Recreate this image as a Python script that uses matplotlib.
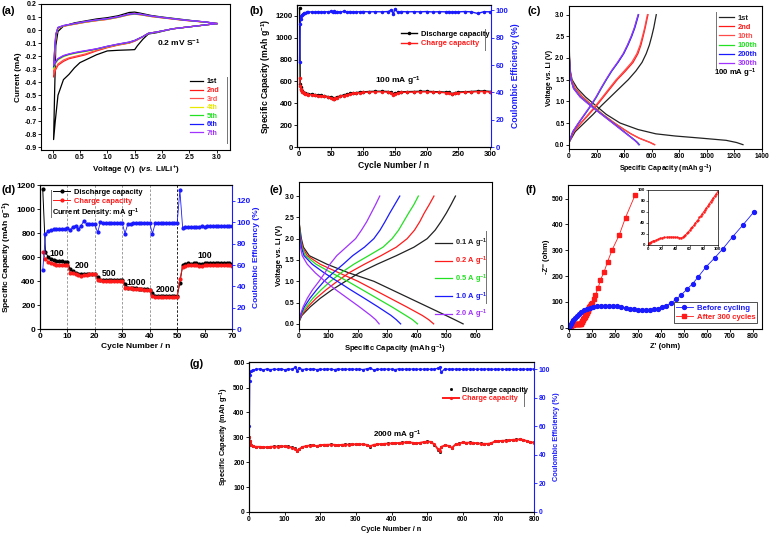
import matplotlib.pyplot as plt

plt.rcParams['font.family'] = ['Liberation Sans', 'DejaVu Sans']
plt.rcParams['font.weight'] = 'bold'
plt.rcParams['axes.labelweight'] = 'bold'
plt.rcParams['axes.unicode_minus'] = False
plt.rcParams['mathtext.fontset'] = 'custom'
plt.rcParams['mathtext.rm'] = 'Liberation Sans:bold'
plt.rcParams['mathtext.bf'] = 'Liberation Sans:bold'
plt.rcParams['mathtext.it'] = 'Liberation Sans:bold:italic'
plt.rcParams['mathtext.default'] = 'rm'

BLUE = '#1a1aff'
RED = '#ff1a1a'

# ================================
# Data
# ================================

# (a) cyclic voltammetry, 7 cycles (cathodic then anodic sweep)
a_labels = ['1st', '2nd', '3rd', '4th', '5th', '6th', '7th']
a_cat_v = [3.0, 2.6, 2.2, 1.9, 1.75, 1.65, 1.55, 1.5, 1.4, 1.2, 1.0, 0.8, 0.6, 0.5, 0.4, 0.3, 0.2, 0.1, 0.05, 0.02]
a_ano_v = [0.02, 0.04, 0.06, 0.1, 0.2, 0.4, 0.6, 0.8, 1.0, 1.2, 1.4, 1.5, 1.6, 1.8, 2.0, 2.4, 2.8, 3.0]
a_cat_i = [
    [0.05, 0.03, 0.01, -0.02, -0.03, -0.07, -0.12, -0.15, -0.152, -0.155, -0.16, -0.19, -0.23, -0.25, -0.29, -0.34, -0.38, -0.5, -0.7, -0.84],
    [0.05, 0.03, 0.01, -0.015, -0.025, -0.05, -0.075, -0.085, -0.1, -0.115, -0.135, -0.16, -0.19, -0.2, -0.21, -0.22, -0.24, -0.27, -0.31, -0.36],
    [0.05, 0.03, 0.01, -0.015, -0.025, -0.05, -0.073, -0.083, -0.098, -0.113, -0.132, -0.156, -0.183, -0.193, -0.203, -0.213, -0.23, -0.26, -0.3, -0.34],
    [0.05, 0.03, 0.01, -0.015, -0.025, -0.05, -0.07, -0.08, -0.095, -0.11, -0.128, -0.148, -0.165, -0.172, -0.18, -0.19, -0.205, -0.23, -0.26, -0.3],
    [0.05, 0.03, 0.01, -0.015, -0.025, -0.05, -0.07, -0.08, -0.094, -0.109, -0.126, -0.146, -0.162, -0.169, -0.177, -0.187, -0.2, -0.225, -0.255, -0.29],
    [0.05, 0.03, 0.01, -0.015, -0.025, -0.05, -0.07, -0.08, -0.093, -0.108, -0.125, -0.145, -0.16, -0.167, -0.175, -0.185, -0.198, -0.222, -0.25, -0.28],
    [0.05, 0.03, 0.01, -0.015, -0.025, -0.05, -0.07, -0.08, -0.092, -0.107, -0.124, -0.144, -0.158, -0.165, -0.173, -0.183, -0.195, -0.218, -0.245, -0.27],
]
a_ano_i = [
    [-0.84, -0.45, -0.12, -0.01, 0.03, 0.055, 0.07, 0.085, 0.095, 0.11, 0.135, 0.138, 0.13, 0.112, 0.1, 0.08, 0.06, 0.05],
    [-0.36, -0.2, -0.05, 0.015, 0.03, 0.045, 0.06, 0.072, 0.082, 0.098, 0.118, 0.122, 0.118, 0.104, 0.094, 0.075, 0.06, 0.05],
    [-0.34, -0.19, -0.05, 0.015, 0.03, 0.046, 0.061, 0.073, 0.083, 0.099, 0.119, 0.123, 0.119, 0.105, 0.095, 0.076, 0.061, 0.05],
    [-0.3, -0.17, -0.04, 0.018, 0.032, 0.048, 0.063, 0.075, 0.085, 0.1, 0.12, 0.124, 0.12, 0.106, 0.096, 0.076, 0.061, 0.05],
    [-0.29, -0.16, -0.04, 0.018, 0.033, 0.049, 0.064, 0.076, 0.086, 0.101, 0.121, 0.125, 0.121, 0.107, 0.097, 0.077, 0.061, 0.05],
    [-0.28, -0.15, -0.035, 0.02, 0.034, 0.05, 0.065, 0.077, 0.087, 0.102, 0.122, 0.126, 0.122, 0.108, 0.097, 0.077, 0.062, 0.05],
    [-0.27, -0.14, -0.03, 0.02, 0.035, 0.051, 0.066, 0.078, 0.088, 0.103, 0.123, 0.127, 0.123, 0.108, 0.097, 0.077, 0.062, 0.05],
]
a_colors = ['black', '#ff1a1a', '#ff5050', '#e8e800', '#22e022', '#1a1aff', '#a033ff']

# (b) cycling at 100 mA/g
b_cycle = [1, 2, 3, 4, 5, 6, 8, 10, 12, 15,
           20, 25, 30, 35, 40, 45, 50, 53, 55, 57,
           60, 65, 70, 75, 80, 85, 90, 95, 100, 110,
           120, 130, 140, 145, 148, 150, 155, 160, 170, 180,
           190, 200, 210, 220, 230, 235, 240, 245, 250, 260,
           270, 280, 290, 300]
b_discharge = [1270, 575, 545, 530, 515, 505, 495, 490, 487, 485,
               483, 480, 476, 472, 468, 462, 455, 448, 440, 450,
               458, 468, 476, 484, 490, 495, 498, 502, 505, 508,
               510, 510, 508, 500, 482, 490, 500, 505, 507, 508,
               510, 510, 507, 505, 502, 500, 488, 498, 503, 506,
               508, 512, 513, 508]
b_charge = [630, 560, 535, 520, 508, 500, 490, 485, 482, 480,
            478, 475, 471, 467, 463, 457, 450, 443, 435, 445,
            453, 463, 471, 479, 485, 490, 493, 497, 500, 503,
            505, 505, 503, 495, 476, 485, 495, 500, 502, 503,
            505, 505, 502, 500, 497, 495, 483, 493, 498, 501,
            503, 507, 508, 503]
b_ce = [62, 90, 94, 96, 97, 97.5, 98, 98.3, 98.6, 98.8,
        99.0, 98.7, 99.2, 98.9, 99.1, 99.0, 99.3, 98.8, 99.4, 99.0,
        99.2, 98.9, 99.3, 99.0, 99.2, 98.9, 99.1, 99.0, 99.2, 99.0,
        99.1, 99.0, 99.2, 100.5, 97.2, 100.8, 98.8, 99.2, 99.0, 99.1,
        99.0, 99.2, 98.9, 99.1, 99.0, 99.2, 98.8, 99.1, 99.0, 99.2,
        99.0, 97.8, 99.1, 99.0]

# (c) charge/discharge profiles at 100 mA/g
c_labels = ['1st', '2nd', '10th', '100th', '200th', '300th']
c_colors = ['#222222', '#ff1a1a', '#ff4a4a', '#22e022', '#1a1aff', '#a033ff']
c_dis_v = [2.5, 2.0, 1.7, 1.5, 1.3, 1.1, 0.9, 0.7, 0.5, 0.35, 0.25, 0.2, 0.15, 0.1, 0.05, 0.0]
c_dis_cap = [
    [0, 4, 10, 22, 60, 120, 195, 270, 370, 500, 630, 770, 960, 1140, 1215, 1262],
    [0, 3, 8, 18, 45, 100, 170, 245, 330, 400, 450, 480, 510, 550, 590, 622],
    [0, 3, 8, 17, 42, 96, 166, 242, 328, 398, 448, 478, 508, 547, 587, 618],
    [0, 3, 7, 15, 35, 85, 160, 240, 320, 380, 420, 440, 460, 480, 498, 512],
    [0, 3, 7, 14, 33, 82, 157, 237, 318, 378, 418, 438, 458, 478, 495, 508],
    [0, 3, 7, 14, 32, 80, 155, 235, 316, 376, 416, 436, 456, 476, 493, 505],
]
c_chg_v = [0.05, 0.3, 0.5, 0.7, 0.9, 1.1, 1.3, 1.5, 1.7, 1.9, 2.1, 2.3, 2.5, 2.7, 2.9, 3.0]
c_chg_cap = [
    [0, 45, 110, 175, 235, 300, 365, 430, 485, 530, 560, 583, 600, 615, 627, 633],
    [0, 35, 88, 145, 200, 250, 300, 350, 410, 465, 500, 522, 538, 553, 566, 573],
    [0, 33, 85, 140, 193, 243, 292, 342, 400, 455, 492, 516, 533, 549, 562, 569],
    [0, 28, 70, 115, 160, 200, 235, 272, 310, 355, 395, 425, 452, 475, 493, 502],
    [0, 28, 70, 114, 158, 198, 233, 270, 310, 356, 397, 428, 455, 478, 496, 505],
    [0, 27, 68, 112, 156, 196, 231, 268, 307, 352, 393, 424, 451, 474, 492, 502],
]

# (d) rate capability
d_cycle = list(range(1, 71))
d_discharge = [1165, 640, 600, 585, 575, 568, 565, 563, 562, 560,
               500, 480, 470, 462, 455, 455, 458, 460, 462, 462,
               430, 408, 408, 407, 406, 406, 405, 405, 405, 405,
               378, 345, 342, 340, 338, 336, 334, 332, 330, 328,
               300, 275, 273, 272, 272, 272, 272, 272, 272, 272,
               385, 530, 545, 546, 545, 547, 546, 545, 544, 546,
               547, 548, 547, 546, 548, 549, 548, 547, 546, 545]
d_charge = [645, 580, 560, 550, 540, 535, 532, 530, 530, 530,
            470, 465, 460, 450, 440, 448, 452, 455, 455, 458,
            405, 405, 404, 404, 404, 403, 403, 403, 403, 403,
            342, 340, 338, 336, 334, 332, 330, 328, 326, 324,
            272, 270, 270, 270, 270, 270, 270, 270, 270, 270,
            420, 515, 528, 530, 530, 531, 530, 529, 528, 530,
            531, 532, 531, 530, 532, 533, 532, 531, 530, 528]
d_ce = [55, 89, 92, 93, 93.5, 93.5, 94, 93.5, 94, 94.5,
        93, 96, 97, 93.5, 97, 101.5, 98.5, 98.5, 98, 98,
        90.5, 100, 99, 99, 99, 99, 99, 99, 99, 99,
        89.5, 98.5, 98.5, 99, 99, 99, 99, 99, 99, 99,
        89.5, 99, 99, 99, 99, 99, 99, 99, 99, 99,
        130, 95, 95.5, 96, 95.5, 96, 96, 96, 96.5, 96,
        96.5, 97, 96.5, 96.5, 97, 97, 96.5, 96.5, 97, 97]
d_steps = [10, 20, 30, 40, 50]
d_rates = ['100', '200', '500', '1000', '2000', '100']
d_rate_x = [3.6, 12.8, 22.5, 31.6, 42.2, 57.5]
d_rate_y = [625, 530, 465, 390, 330, 615]

# (e) profiles at different rates
e_labels = ['0.1 A g$^{-1}$', '0.2 A g$^{-1}$', '0.5 A g$^{-1}$', '1.0 A g$^{-1}$', '2.0 A g$^{-1}$']
e_colors = ['#222222', '#ff1a1a', '#22e022', '#1a1aff', '#a033ff']
e_dis_v = [2.4, 2.0, 1.8, 1.6, 1.4, 1.2, 1.0, 0.8, 0.6, 0.4, 0.2, 0.1, 0.0]
e_dis_cap = [
    [0, 8, 15, 35, 95, 168, 254, 315, 376, 437, 498, 528, 557],
    [0, 6, 12, 28, 72, 135, 200, 255, 310, 365, 418, 440, 457],
    [0, 5, 10, 22, 58, 110, 165, 215, 265, 315, 362, 385, 402],
    [0, 4, 8, 17, 45, 85, 130, 175, 222, 268, 312, 330, 345],
    [0, 2, 5, 11, 28, 55, 88, 125, 165, 205, 243, 260, 272],
]
e_chg_v = [0.05, 0.2, 0.4, 0.6, 0.8, 1.0, 1.2, 1.4, 1.6, 1.8, 2.0, 2.2, 2.4, 2.6, 2.8, 3.0]
e_chg_cap = [
    [0, 10, 38, 72, 112, 158, 205, 265, 330, 390, 435, 462, 482, 500, 516, 531],
    [0, 8, 30, 58, 92, 130, 170, 222, 278, 330, 367, 392, 410, 425, 442, 458],
    [0, 6, 24, 47, 75, 107, 143, 186, 236, 285, 316, 338, 355, 372, 390, 405],
    [0, 5, 18, 37, 60, 85, 116, 150, 182, 222, 254, 275, 292, 308, 325, 342],
    [0, 4, 14, 28, 46, 68, 88, 105, 128, 160, 192, 212, 230, 245, 260, 274],
]

# (f) impedance
f_before_zr = [2, 5, 9, 14, 20, 27, 35, 44, 54, 65,
               78, 92, 107, 123, 140, 157, 175, 193, 211, 229,
               247, 265, 283, 300, 318, 335, 352, 370, 388, 406,
               425, 445, 467, 490, 515, 538, 562, 597, 634, 670,
               712, 757, 806]
f_before_zi = [2, 7, 14, 21, 29, 37, 45, 53, 60, 67,
               73, 78, 82, 84, 85.5, 86, 86, 85, 83, 80,
               77, 74, 72, 70, 69, 68.5, 69, 71, 74, 79,
               86, 96, 110, 128, 150, 170, 196, 236, 270, 306,
               352, 398, 450]
f_after_zr = [0, 1, 2, 3, 5, 7, 9, 12, 15, 18,
              21, 24, 27, 30, 33, 36, 39, 42, 45, 48,
              50, 52, 54, 56, 58, 60, 62, 64, 66, 68,
              70, 72, 74, 76, 78, 80, 82, 84, 86, 88,
              90, 92, 94, 96, 98, 100, 108, 116, 128, 138,
              153, 169, 189, 220, 247, 288]
f_after_zi = [0, 1.5, 3, 4, 5.5, 7, 8, 9, 10.5, 12,
              13, 13.8, 14.3, 14.6, 14.7, 14.6, 14.3, 13.8, 13.2, 13.0,
              14, 16, 18.5, 21, 24, 27, 30, 33, 36, 39.5,
              43, 46, 50, 53, 57, 60.5, 64, 67.5, 71, 75,
              79, 82.5, 86, 89.5, 93, 97, 113, 128, 153, 186,
              214, 256, 302, 360, 427, 513]

# (g) long cycling at 2000 mA/g
g_cycle = [1, 2, 3, 5, 10, 20, 30, 40, 50, 60,
           70, 80, 90, 100, 110, 120, 130, 135, 140, 150,
           160, 170, 180, 190, 200, 210, 220, 230, 240, 250,
           260, 270, 280, 290, 300, 310, 320, 330, 340, 350,
           360, 370, 380, 390, 400, 410, 420, 430, 440, 450,
           460, 470, 480, 490, 500, 510, 520, 530, 535, 540,
           550, 560, 570, 580, 590, 600, 610, 620, 630, 640,
           650, 660, 670, 680, 690, 700, 710, 720, 730, 740,
           750, 760, 770, 780, 790, 800]
g_charge = [300, 285, 276, 268, 264, 262, 262, 261, 260, 262,
            263, 263, 264, 264, 263, 259, 255, 246, 252, 261,
            265, 267, 268, 265, 268, 270, 270, 271, 270, 268,
            270, 271, 271, 272, 272, 272, 272, 270, 264, 270,
            272, 273, 274, 275, 276, 277, 277, 279, 280, 280,
            278, 276, 278, 281, 283, 282, 272, 253, 244, 262,
            268, 266, 258, 272, 275, 280, 278, 279, 278, 276,
            275, 274, 274, 276, 284, 285, 286, 287, 288, 290,
            291, 292, 290, 285, 281, 279]
g_discharge = [302, 286, 277, 269, 265, 263, 263, 262, 261, 263,
               264, 264, 265, 265, 264, 260, 256, 244, 253, 262,
               266, 268, 269, 266, 269, 271, 271, 272, 271, 269,
               271, 272, 272, 273, 273, 273, 273, 271, 262, 271,
               273, 274, 275, 276, 277, 278, 278, 280, 281, 281,
               279, 277, 279, 282, 284, 283, 270, 250, 242, 263,
               269, 267, 256, 273, 276, 281, 279, 280, 279, 277,
               276, 275, 275, 277, 285, 286, 287, 288, 289, 291,
               292, 293, 291, 286, 282, 280]
g_ce = [60, 92, 96, 98.5, 99.5, 99.8, 100.2, 99.6, 100.1, 99.7,
        100.0, 99.8, 100.2, 99.6, 100.1, 99.9, 101.2, 98.6, 101.0, 99.7,
        100.1, 99.8, 100.2, 99.7, 100.0, 99.8, 100.1, 99.9, 99.7, 100.2,
        99.8, 100.0, 99.9, 100.1, 99.8, 100.0, 99.7, 100.2, 100.8, 99.5,
        100.0, 99.8, 100.1, 99.9, 100.0, 99.7, 100.2, 99.8, 100.0, 99.9,
        100.1, 99.8, 100.0, 99.9, 100.1, 99.8, 100.0, 100.6, 101.3, 97.8,
        100.4, 99.8, 100.1, 99.9, 100.0, 99.8, 100.1, 99.9, 100.0, 99.8,
        100.0, 99.9, 100.1, 99.8, 100.0, 99.9, 100.0, 99.8, 100.1, 99.9,
        100.0, 99.8, 100.0, 99.9, 100.1, 100.0]

# ================================
# Helpers
# ================================

W, H = 771, 535
fig = plt.figure(figsize=(W / 100, H / 100), dpi=100)
LG = 5.4   # legend text


def box(x0, y0, x1, y1, ts):
    ax = fig.add_axes([x0 / W, 1 - y1 / H, (x1 - x0) / W, (y1 - y0) / H])
    style(ax, ts)
    return ax


def style(ax, ts):
    ax.tick_params(labelsize=ts, length=2, width=0.6, pad=1.2, direction='out')
    for s in ax.spines.values():
        s.set_linewidth(0.8)


def twin(ax, ts, ls):
    axr = ax.twinx()
    style(axr, ts)
    axr.spines['right'].set_color(BLUE)
    ax.spines['right'].set_visible(False)
    axr.tick_params(axis='y', colors=BLUE, labelcolor=BLUE)
    axr.set_ylabel('Coulombic Efficiency (%)', fontsize=ls, color=BLUE, labelpad=2)
    return axr


def legend(ax, colors, **kw):
    opts = dict(frameon=False, fontsize=LG, handlelength=2.2, handletextpad=0.5,
                borderpad=0, borderaxespad=0, labelspacing=0.2)
    opts.update(kw)
    lg = ax.legend(**opts)
    for t, c in zip(lg.get_texts(), colors):
        t.set_color(c)
    return lg


def bar(ax, x, y0, y1):
    ax.plot([x, x], [y0, y1], transform=ax.transAxes, color='0.45', lw=0.7, clip_on=False)


def tag(x, y, s):
    fig.text(x / W, 1 - y / H, s, fontsize=8, fontweight='bold', va='center', ha='left')


CAP = 'Specific Capacity (mAh g$^{-1}$)'

# ================================
# (a)
# ================================
ax = box(41, 4, 230, 150, 5)
for lab, col, ci, ai in zip(a_labels, a_colors, a_cat_i, a_ano_i):
    ax.plot(a_cat_v + a_ano_v, ci + ai, color=col, lw=0.9, label=lab)
ax.set_xlim(-0.21, 3.24)
ax.set_ylim(-0.92, 0.2)
ax.set_xticks([0.0, 0.5, 1.0, 1.5, 2.0, 2.5, 3.0])
ax.set_xticklabels(['0.0', '0.5', '1.0', '1.5', '2.0', '2.5', '3.0'])
ax.set_yticks([-0.9, -0.8, -0.7, -0.6, -0.5, -0.4, -0.3, -0.2, -0.1, 0.0, 0.1, 0.2])
ax.set_yticklabels(['-0.9', '-0.8', '-0.7', '-0.6', '-0.5', '-0.4', '-0.3', '-0.2', '-0.1', '0.0', '0.1', '0.2'])
ax.set_xlabel('Voltage (V)  ($\\mathit{vs.}$ Li/Li$^{+}$)', fontsize=5.8, labelpad=1.5)
ax.set_ylabel('Current (mA)', fontsize=5.8, labelpad=1.5)
ax.text(1.9, -0.1, '0.2 mV S$^{-1}$', fontsize=6, va='center')
legend(ax, a_colors, loc='upper left', bbox_to_anchor=(0.79, 0.49), handlelength=1.8, fontsize=5.1, labelspacing=0.22)
bar(ax, 0.985, 0.05, 0.5)
tag(1, 11, '(a)')

# ================================
# (b)
# ================================
ax = box(297, 5, 491, 147, 5.6)
ax.plot(b_cycle, b_discharge, color='black', marker='o', ms=1.5, lw=1.0, label='Discharge capacity')
ax.plot(b_cycle, b_charge, color=RED, marker='o', ms=1.5, lw=1.0, label='Charge capacity')
ax.set_xlim(-3, 301)
ax.set_ylim(0, 1300)
ax.set_xticks(range(0, 301, 50))
ax.set_yticks(range(0, 1201, 200))
ax.set_xlabel('Cycle Number / n', fontsize=6.2, labelpad=1.5)
ax.set_ylabel(CAP, fontsize=6.2, labelpad=1.5)
ax.text(120, 600, '100 mA g$^{-1}$', fontsize=6, va='center')
legend(ax, ['black', RED], loc='upper left', bbox_to_anchor=(0.535, 0.82), labelspacing=0.3)
bar(ax, 0.968, 0.68, 0.83)
axr = twin(ax, 5.6, 6.2)
axr.plot(b_cycle, b_ce, color=BLUE, marker='o', ms=1.5, lw=1.0)
axr.set_ylim(0, 104)
axr.set_yticks(range(0, 101, 20))
tag(250, 11, '(b)')

# ================================
# (c)
# ================================
ax = box(569, 6, 762, 149, 4.8)
for lab, col, dc, cc in zip(c_labels, c_colors, c_dis_cap, c_chg_cap):
    ax.plot(dc, c_dis_v, color=col, lw=0.9, label=lab)
    ax.plot(cc, c_chg_v, color=col, lw=0.9)
ax.set_xlim(0, 1400)
ax.set_ylim(-0.1, 3.2)
ax.set_xticks(range(0, 1401, 200))
ax.set_yticks([0.0, 0.5, 1.0, 1.5, 2.0, 2.5, 3.0])
ax.set_yticklabels(['0.0', '0.5', '1.0', '1.5', '2.0', '2.5', '3.0'])
ax.set_xlabel(CAP, fontsize=5, labelpad=1.5)
ax.set_ylabel('Voltage vs. Li (V)', fontsize=5, labelpad=1.5)
ax.text(1050, 1.65, '100 mA g$^{-1}$', fontsize=5.6, va='center')
legend(ax, c_colors, loc='upper left', bbox_to_anchor=(0.775, 0.94), handlelength=2.0, labelspacing=0.25)
bar(ax, 0.762, 0.565, 0.96)
tag(527, 11, '(c)')

# ================================
# (d)
# ================================
ax = box(40, 185, 232, 329, 6)
for s in d_steps:
    ax.axvline(s, color='black' if s == 50 else '0.55', lw=0.6, ls=(0, (3, 2)))
ax.plot(d_cycle, d_discharge, color='black', marker='o', ms=2.0, lw=0.7, label='Discharge capacity')
ax.plot(d_cycle, d_charge, color=RED, marker='o', ms=2.0, lw=0.7, label='Charge capacity')
for txt, x, y in zip(d_rates, d_rate_x, d_rate_y):
    ax.text(x, y, txt, fontsize=6.3, va='center')
ax.set_xlim(0, 70)
ax.set_ylim(0, 1200)
ax.set_xticks(range(0, 71, 10))
ax.set_yticks(range(0, 1201, 200))
ax.set_xlabel('Cycle Number / n', fontsize=6, labelpad=1.5)
ax.set_ylabel(CAP, fontsize=6, labelpad=1.5)
legend(ax, ['black', RED], loc='upper left', bbox_to_anchor=(0.07, 0.975), labelspacing=0.22)
ax.text(0.062, 0.805, 'Current Density: mA g$^{-1}$', transform=ax.transAxes, fontsize=LG, va='center')
bar(ax, 0.056, 0.775, 0.965)
axr = twin(ax, 6, 6)
axr.plot(d_cycle, d_ce, color=BLUE, marker='o', ms=2.0, lw=0.6)
axr.set_ylim(0, 135)
axr.set_yticks(range(0, 121, 20))
tag(1, 190, '(d)')

# ================================
# (e)
# ================================
ax = box(299, 182, 492, 329, 5)
for lab, col, dc, cc in zip(e_labels, e_colors, e_dis_cap, e_chg_cap):
    ax.plot(dc, e_dis_v, color=col, lw=0.9, label=lab)
    ax.plot(cc, e_chg_v, color=col, lw=0.9)
ax.set_xlim(0, 655)
ax.set_ylim(-0.12, 3.33)
ax.set_xticks(range(0, 601, 100))
ax.set_yticks([0.0, 0.5, 1.0, 1.5, 2.0, 2.5, 3.0])
ax.set_yticklabels(['0.0', '0.5', '1.0', '1.5', '2.0', '2.5', '3.0'])
ax.set_xlabel(CAP, fontsize=5.5, labelpad=1.5)
ax.set_ylabel('Voltage vs. Li (V)', fontsize=5.5, labelpad=1.5)
legend(ax, e_colors, loc='upper left', bbox_to_anchor=(0.705, 0.63), handlelength=2.2, labelspacing=0.62)
bar(ax, 0.969, 0.18, 0.67)
tag(270, 190, '(e)')

# ================================
# (f)
# ================================
ax = box(568, 185, 762, 329, 5)
ax.plot(f_after_zr, f_after_zi, color=RED, marker='s', ms=2.4, lw=0.6, label='After 300 cycles')
ax.plot(f_before_zr, f_before_zi, color=BLUE, marker='o', ms=2.8, lw=0.6, label='Before cycling')
ax.set_xlim(-3, 840)
ax.set_ylim(-5, 553)
ax.set_xticks(range(0, 801, 100))
ax.set_yticks(range(0, 501, 100))
ax.set_xlabel("Z' (ohm)", fontsize=5.5, labelpad=1.5)
ax.set_ylabel("-Z'' (ohm)", fontsize=5.5, labelpad=1.5)
h, l = ax.get_legend_handles_labels()
lg = ax.legend(h[::-1], l[::-1], loc='lower right', bbox_to_anchor=(0.975, 0.045), fontsize=5.6,
               frameon=True, fancybox=False, edgecolor='black', handlelength=2.2, handletextpad=0.5,
               borderpad=0.25, labelspacing=0.2, borderaxespad=0)
lg.get_frame().set_linewidth(0.6)
for t, c in zip(lg.get_texts(), [BLUE, RED]):
    t.set_color(c)
ins = fig.add_axes([647.7 / W, 1 - 245 / H, 69.8 / W, 55 / H])
ins.plot(f_after_zr, f_after_zi, color=RED, marker='o', ms=0.8, lw=0.5)
ins.set_xlim(0, 100)
ins.set_ylim(0, 100)
ins.set_xticks(range(0, 101, 20))
ins.set_yticks(range(0, 101, 20))
ins.tick_params(labelsize=3.2, length=1.2, width=0.4, pad=0.6)
for s in ins.spines.values():
    s.set_linewidth(0.5)
tag(525, 190, '(f)')

# ================================
# (g)
# ================================
ax = box(249, 362, 534, 512, 4.9)
ax.plot(g_cycle, g_discharge, color='black', marker='s', ms=1.0, ls='none', label='Discharge capacity')
ax.plot(g_cycle, g_charge, color=RED, marker='o', ms=1.3, lw=1.4, label='Charge capacity')
ax.text(347, 308, '2000 mA g$^{-1}$', fontsize=5.8, va='center')
ax.set_xlim(0, 800)
ax.set_ylim(0, 603)
ax.set_xticks(range(0, 801, 100))
ax.set_yticks(range(0, 601, 100))
ax.set_xlabel('Cycle Number / n', fontsize=5.3, labelpad=1.5)
ax.set_ylabel(CAP, fontsize=5.3, labelpad=1.5)
legend(ax, ['black', RED], loc='upper left', bbox_to_anchor=(0.68, 0.835), labelspacing=0.18, fontsize=5.2)
bar(ax, 0.966, 0.71, 0.835)
axr = twin(ax, 4.9, 5.3)
axr.plot(g_cycle, g_ce, color=BLUE, marker='o', ms=1.3, lw=0.9)
axr.set_ylim(0, 105)
axr.set_yticks(range(0, 101, 20))
tag(190, 364, '(g)')

plt.savefig('out.png', dpi=100)
